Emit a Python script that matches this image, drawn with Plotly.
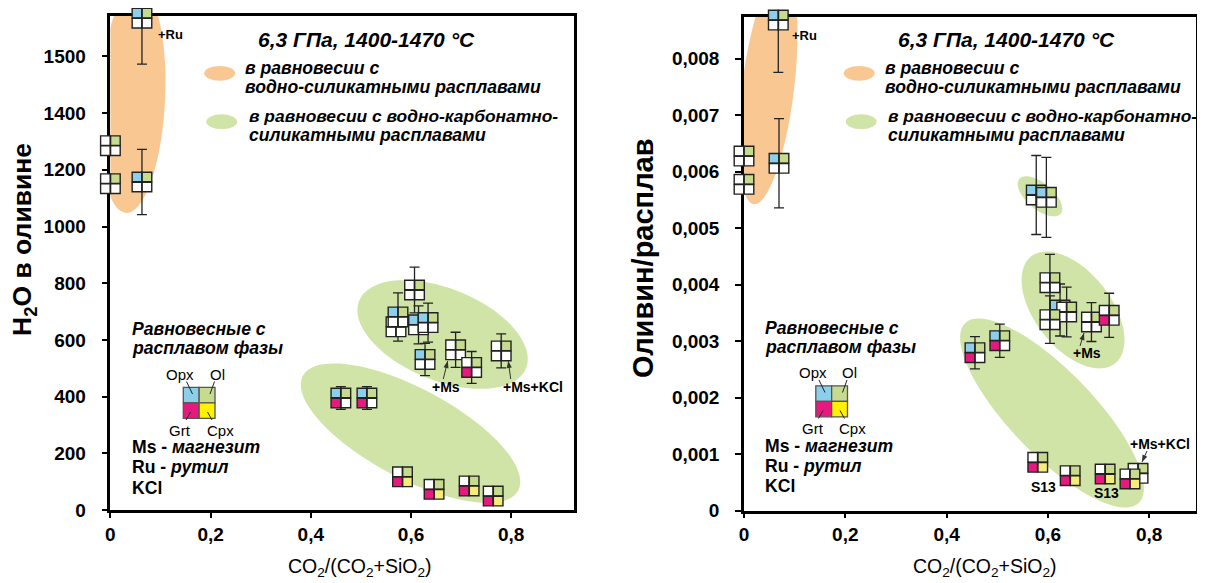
import numpy as np
import plotly.graph_objects as go

# ------------------------------------------------------------------
# DATA
# ------------------------------------------------------------------
# Left panel: H2O in olivine (axis units) vs CO2/(CO2+SiO2)
h2o_x   = [0.063, 0.000, 0.000, 0.063, 0.607, 0.570, 0.574, 0.615, 0.634, 0.628,
           0.689, 0.721, 0.780, 0.460, 0.512, 0.583, 0.646, 0.716, 0.764]
h2o_y   = [1735, 1285, 1151, 1157, 776, 646, 681, 653, 661, 531,
           565, 503, 561, 395, 395, 117, 73, 85, 49]
h2o_err = [162, 0, 0, 115, 81, 0, 85, 67, 69, 57,
           62, 56, 60, 40, 40, 0, 0, 0, 0]
h2o_opx = [1, 0, 0, 1, 0, 0, 1, 1, 1, 1, 0, 0, 0, 1, 1, 0, 0, 0, 0]
h2o_ol  = [1, 1, 1, 1, 1, 1, 1, 1, 1, 1, 1, 1, 1, 1, 1, 1, 1, 1, 1]
h2o_grt = [0, 0, 0, 0, 0, 0, 0, 0, 0, 0, 0, 1, 0, 1, 1, 1, 1, 1, 1]
h2o_cpx = [0, 0, 0, 0, 0, 0, 0, 0, 0, 0, 0, 0, 0, 0, 0, 1, 1, 1, 1]

# Right panel: olivine/melt partition vs CO2/(CO2+SiO2)
ratio_x   = [0.0677, 0.000, 0.000, 0.0691, 0.577, 0.597, 0.604, 0.624, 0.637, 0.604,
             0.686, 0.721, 0.456, 0.505, 0.580, 0.644, 0.713, 0.778, 0.762]
ratio_y   = [0.008681, 0.006274, 0.005773, 0.006145, 0.005584, 0.005543, 0.004032,
             0.003549, 0.003513, 0.003377, 0.003336, 0.003455, 0.002793, 0.003005,
             0.000853, 0.000616, 0.000646, 0.000658, 0.000558]
ratio_err = [0.000926, 0, 0, 0.00079, 0.000699, 0.000708, 0.0005, 0.00046, 0.00044,
             0.00042, 0.000345, 0.00039, 0.000285, 0.000295, 0, 0, 0, 0, 0]
ratio_opx = [1, 0, 0, 1, 1, 1, 0, 1, 0, 0, 0, 0, 1, 1, 0, 0, 0, 0, 0]
ratio_ol  = [1, 1, 1, 1, 1, 1, 1, 1, 1, 1, 1, 1, 1, 1, 1, 1, 1, 1, 1]
ratio_grt = [0, 0, 0, 0, 0, 0, 0, 0, 0, 0, 0, 1, 1, 1, 1, 1, 1, 0, 1]
ratio_cpx = [0, 0, 0, 0, 0, 0, 0, 0, 0, 0, 0, 0, 0, 0, 1, 1, 1, 0, 1]

x_tick_vals = [0, 0.2, 0.4, 0.6, 0.8]
x_tick_text = ["0", "0,2", "0,4", "0,6", "0,8"]
h2o_tick_vals = [0, 200, 400, 600, 800, 1000, 1200, 1400, 1600]
h2o_tick_text = ["0", "200", "400", "600", "800", "1000", "1200", "1400", "1500"]
ratio_tick_vals = [0, 0.001, 0.002, 0.003, 0.004, 0.005, 0.006, 0.007, 0.008]
ratio_tick_text = ["0", "0,001", "0,002", "0,003", "0,004", "0,005", "0,006", "0,007", "0,008"]

# ------------------------------------------------------------------
# STYLE / LAYOUT
# ------------------------------------------------------------------
WIN_W, WIN_H = 1205, 583
OFF = 8                      # default page margin around the plot div
FW, FH = WIN_W - OFF, WIN_H - OFF
FONT = "Liberation Sans, Arial, sans-serif"
C_OPX, C_OL, C_GRT, C_CPX = "#8CCFEA", "#C6DB8D", "#E6197F", "#F6EC78"
C_CPX_LEG = "#FFF100"
C_WHITE = "#FFFFFF"
C_ORANGE, C_GREEN = "#F9C892", "#D1E4A7"
EDGE = "#222222"
PAD = 20                     # extra room (px) for the marker overlay axes


def PX(xp):
    return (xp - OFF) / FW


def PY(yp):
    return 1 - (yp - OFF) / FH


panels = [
    dict(x0=110.4, x1=574.0, ybot=510.0, ytop=16.0, xmax=0.9253, ymax=1742.5,
         xa="x", ya="y", xs="xaxis", ys="yaxis",
         mxa="x3", mya="y3", mxs="xaxis3", mys="yaxis3"),
    dict(x0=744.0, x1=1196.0, ybot=510.5, ytop=16.7, xmax=0.8924, ymax=0.008740,
         xa="x2", ya="y2", xs="xaxis2", ys="yaxis2",
         mxa="x4", mya="y4", mxs="xaxis4", mys="yaxis4"),
]
for p in panels:
    p["sx"] = (p["x1"] - p["x0"]) / p["xmax"]
    p["sy"] = (p["ybot"] - p["ytop"]) / p["ymax"]

fig = go.Figure()
shapes, annotations = [], []


def add_points(p, xs, ys, errs, opx, ol, grt, cpx):
    ex = [x for x, e in zip(xs, errs) if e > 0]
    ey = [y for y, e in zip(ys, errs) if e > 0]
    ee = [e for e in errs if e > 0]
    fig.add_trace(go.Scatter(
        x=ex, y=ey, mode="markers", marker=dict(size=1, opacity=0),
        error_y=dict(type="data", array=ee, visible=True, color=EDGE,
                     thickness=1.3, width=5),
        xaxis=p["xa"], yaxis=p["ya"], showlegend=False, hoverinfo="skip"))
    dx, dy = 5.0 / p["sx"], 5.0 / p["sy"]
    for i in range(len(xs)):
        cols = [C_OPX if opx[i] else C_WHITE, C_OL if ol[i] else C_WHITE,
                C_GRT if grt[i] else C_WHITE, C_CPX if cpx[i] else C_WHITE]
        fig.add_trace(go.Scatter(
            x=[xs[i] - dx, xs[i] + dx, xs[i] - dx, xs[i] + dx],
            y=[ys[i] + dy, ys[i] + dy, ys[i] - dy, ys[i] - dy],
            mode="markers", cliponaxis=False,
            marker=dict(symbol="square", size=9.6, color=cols,
                        line=dict(color=EDGE, width=1.4)),
            xaxis=p["mxa"], yaxis=p["mya"], showlegend=False, hoverinfo="skip"))


def ellipse(p, cx, cy, a_px, b_px, ang, color):
    t = np.linspace(0, 2 * np.pi, 90)
    th = np.radians(ang)
    ux = a_px * np.cos(t) * np.cos(th) - b_px * np.sin(t) * np.sin(th)
    uy = a_px * np.cos(t) * np.sin(th) + b_px * np.sin(t) * np.cos(th)
    xs = cx + ux / p["sx"]
    ys = cy + uy / p["sy"]
    path = "M " + " L ".join(f"{x:.5f},{y:.7f}" for x, y in zip(xs, ys)) + " Z"
    shapes.append(dict(type="path", path=path, xref=p["xa"], yref=p["ya"],
                       fillcolor=color, line=dict(width=0), layer="below"))


def T(xp, yp, text, size, xanchor="left", angle=0):
    annotations.append(dict(x=PX(xp), y=PY(yp), xref="paper", yref="paper",
                            text=text, showarrow=False, xanchor=xanchor,
                            yanchor="middle", textangle=angle,
                            font=dict(family=FONT, size=size, color="black")))


def arrow(tx, ty, hx, hy):
    shapes.append(dict(type="line", xref="paper", yref="paper",
                       x0=PX(tx), y0=PY(ty), x1=PX(hx), y1=PY(hy),
                       line=dict(color="#333333", width=1)))
    v = np.array([hx - tx, hy - ty], float)
    v /= np.hypot(*v)
    n = np.array([-v[1], v[0]])
    base = np.array([hx, hy]) - 7 * v
    b1, b2 = base + 2.6 * n, base - 2.6 * n
    path = (f"M {PX(hx):.5f},{PY(hy):.5f} L {PX(b1[0]):.5f},{PY(b1[1]):.5f} "
            f"L {PX(b2[0]):.5f},{PY(b2[1]):.5f} Z")
    shapes.append(dict(type="path", xref="paper", yref="paper", path=path,
                       fillcolor="#333333", line=dict(width=0)))


def rect_px(x0, y0, x1, y1, color, lw=1.3):
    shapes.append(dict(type="rect", xref="paper", yref="paper",
                       x0=PX(x0), x1=PX(x1), y0=PY(y1), y1=PY(y0),
                       fillcolor=color, line=dict(color="#555555", width=lw)))


def line_px(x0, y0, x1, y1):
    shapes.append(dict(type="line", xref="paper", yref="paper",
                       x0=PX(x0), x1=PX(x1), y0=PY(y0), y1=PY(y1),
                       line=dict(color="#222222", width=1)))


def oval_px(cx, cy, rx, ry, color):
    shapes.append(dict(type="circle", xref="paper", yref="paper",
                       x0=PX(cx - rx), x1=PX(cx + rx),
                       y0=PY(cy + ry), y1=PY(cy - ry),
                       fillcolor=color, line=dict(width=0)))


def header(ox):
    T(366.7 + ox, 39, "<b><i>6,3 ГПа, 1400-1470 °C</i></b>", 21, "center")
    oval_px(219.7 + ox, 73.3, 15.5, 7.4, C_ORANGE)
    oval_px(221.7 + ox, 121.7, 15.5, 7.4, C_GREEN)
    T(243.3 + ox, 68, "<b><i>в равновесии с</i></b>", 17.6)
    T(243.3 + ox, 87.3, "<b><i>водно-силикатными расплавами</i></b>", 17.6)
    T(246.7 + ox, 116, "<b><i>в равновесии с водно-карбонатно-</i></b>", 17.4)
    T(246.7 + ox, 135, "<b><i>силикатными расплавами</i></b>", 17.6)


def phase_legend(ox, oy):
    T(130 + ox, 329.3 + oy, "<b><i>Равновесные с</i></b>", 17.6)
    T(130 + ox, 348.3 + oy, "<b><i>расплавом фазы</i></b>", 17.6)
    x0, x1, y0, y1 = 183.3 + ox, 215 + ox, 387.3 + oy, 418.3 + oy
    mx, my = (x0 + x1) / 2, (y0 + y1) / 2
    rect_px(x0, y0, mx, my, C_OPX)
    rect_px(mx, y0, x1, my, C_OL)
    rect_px(x0, my, mx, y1, C_GRT)
    rect_px(mx, my, x1, y1, C_CPX_LEG)
    T(180 + ox, 374 + oy, "Opx", 15, "center")
    T(217 + ox, 374 + oy, "Ol", 15, "center")
    T(180 + ox, 430 + oy, "Grt", 15, "center")
    T(220 + ox, 430 + oy, "Cpx", 15, "center")
    line_px(186.5 + ox, 381.5 + oy, 192.5 + ox, 394 + oy)
    line_px(214.5 + ox, 381.5 + oy, 210 + ox, 394 + oy)
    line_px(190.5 + ox, 412 + oy, 186 + ox, 420 + oy)
    line_px(207.5 + ox, 412 + oy, 212 + ox, 420 + oy)
    T(130 + ox, 447.2 + oy, "<b>Ms - <i>магнезит</i></b>", 17.6)
    T(130 + ox, 467 + oy, "<b>Ru - <i>рутил</i></b>", 17.6)
    T(130 + ox, 487.7 + oy, "<b>KCl</b>", 17.6)


# ------------------------------------------------------------------
# LEFT PANEL
# ------------------------------------------------------------------
L, R = panels
ellipse(L, 0.0431, 1446, 113, 33, 87, C_ORANGE)
ellipse(L, 0.663, 619, 90, 46, -22, C_GREEN)
ellipse(L, 0.599, 271, 122, 45, -28, C_GREEN)
add_points(L, h2o_x, h2o_y, h2o_err, h2o_opx, h2o_ol, h2o_grt, h2o_cpx)
header(0)
phase_legend(0, 0)
T(170, 34.3, "<b>+Ru</b>", 13, "center")
T(445.8, 386.7, "<b>+Ms</b>", 14, "center")
T(533, 386.7, "<b>+Ms+KCl</b>", 14, "center")
arrow(443.3, 379, 447.7, 361)
arrow(510.7, 379, 508.3, 361)
T(24, 240, "<b>H<sub>2</sub>O в оливине</b>", 26.5, "center", -90)
T(359.5, 567, "CO<sub>2</sub>/(CO<sub>2</sub>+SiO<sub>2</sub>)", 19.5, "center")

# ------------------------------------------------------------------
# RIGHT PANEL
# ------------------------------------------------------------------
ellipse(R, 0.0474, 0.007478, 117, 26, 83, C_ORANGE)
ellipse(R, 0.5844, 0.005561, 27, 13, -40, C_GREEN)
ellipse(R, 0.6496, 0.003549, 68, 38, -52, C_GREEN)
ellipse(R, 0.6081, 0.001726, 125, 42, -46, C_GREEN)
add_points(R, ratio_x, ratio_y, ratio_err, ratio_opx, ratio_ol, ratio_grt, ratio_cpx)
header(639.5)
phase_legend(632.5, -1.5)
T(804, 35, "<b>+Ru</b>", 13, "center")
T(1086.7, 353.3, "<b>+Ms</b>", 14, "center")
arrow(1080, 346, 1084, 333)
T(1160, 444, "<b>+Ms+KCl</b>", 14, "center")
arrow(1147, 451, 1142, 462)
T(1043.3, 486.7, "<b>S13</b>", 14, "center")
T(1106.7, 493.3, "<b>S13</b>", 14, "center")
T(643, 258, "<b>Оливин/расплав</b>", 29, "center", -90)
T(985, 567, "CO<sub>2</sub>/(CO<sub>2</sub>+SiO<sub>2</sub>)", 19.5, "center")

# ------------------------------------------------------------------
# AXES
# ------------------------------------------------------------------
tickfont = dict(family=FONT, size=19, color="black", weight="bold")
layout_axes = {}
for p, yvals, ytext in [(L, h2o_tick_vals, h2o_tick_text),
                        (R, ratio_tick_vals, ratio_tick_text)]:
    common = dict(showline=True, linecolor="black", linewidth=2.5, mirror=True,
                  showgrid=False, zeroline=False, ticks="outside",
                  tickwidth=1.5, tickcolor="black", tickfont=tickfont,
                  automargin=False, layer="below traces")
    layout_axes[p["xs"]] = dict(
        domain=[PX(p["x0"]), PX(p["x1"])], range=[0, p["xmax"]],
        tickmode="array", tickvals=x_tick_vals, ticktext=x_tick_text,
        anchor=p["ya"], ticklen=5, ticklabelstandoff=0, **common)
    layout_axes[p["ys"]] = dict(
        domain=[PY(p["ybot"]), PY(p["ytop"])], range=[0, p["ymax"]],
        tickmode="array", tickvals=yvals, ticktext=ytext,
        anchor=p["xa"], ticklen=6, ticklabelstandoff=12, **common)
    # invisible overlay axes with the same pixel scale but a little more room,
    # so quadrant markers that straddle the frame are still drawn
    padl = PAD
    padr = min(PAD, WIN_W - p["x1"])
    padt = p["ytop"] - OFF
    padb = PAD
    layout_axes[p["mxs"]] = dict(
        domain=[max(0.0, PX(p["x0"] - padl)), min(1.0, PX(p["x1"] + padr))],
        range=[-padl / p["sx"], p["xmax"] + padr / p["sx"]],
        visible=False, anchor=p["mya"], fixedrange=True)
    layout_axes[p["mys"]] = dict(
        domain=[max(0.0, PY(p["ybot"] + padb)), min(1.0, PY(p["ytop"] - padt))],
        range=[-padb / p["sy"], p["ymax"] + padt / p["sy"]],
        visible=False, anchor=p["mxa"], fixedrange=True)

fig.update_layout(
    width=FW, height=FH, autosize=False,
    margin=dict(l=0, r=0, t=0, b=0, pad=0, autoexpand=False),
    paper_bgcolor="white", plot_bgcolor="rgba(0,0,0,0)",
    showlegend=False, shapes=shapes, annotations=annotations,
    font=dict(family=FONT, color="black"),
    **layout_axes)

fig.write_html("out.html")
